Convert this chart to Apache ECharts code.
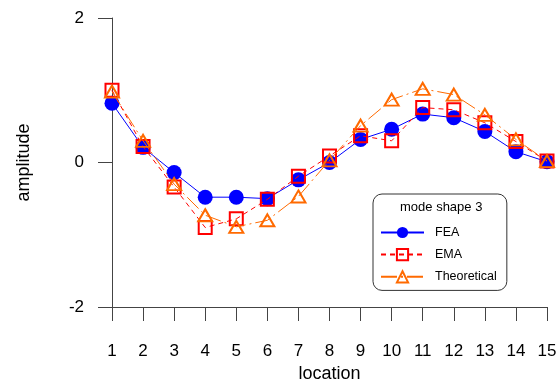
<!DOCTYPE html>
<html>
<head>
<meta charset="utf-8">
<script src="https://cdn.jsdelivr.net/npm/echarts@6/dist/echarts.min.js"></script>
<style>
  html, body { margin: 0; padding: 0; background: #fff; }
  #chart { width: 559px; height: 381px; }
</style>
</head>
<body>
<div id="chart"></div>
<script>
// values
const locations = [1, 2, 3, 4, 5, 6, 7, 8, 9, 10, 11, 12, 13, 14, 15];
const fea = [0.82, 0.21, -0.14, -0.48, -0.48, -0.50, -0.24, 0.00, 0.32, 0.46, 0.67, 0.62, 0.43, 0.15, 0.01];
const ema = [1.00, 0.22, -0.34, -0.90, -0.78, -0.51, -0.19, 0.09, 0.37, 0.30, 0.76, 0.73, 0.55, 0.29, 0.02];
const theoretical = [0.98, 0.30, -0.30, -0.73, -0.89, -0.80, -0.47, 0.03, 0.51, 0.87, 1.02, 0.94, 0.66, 0.32, 0.02];
const yTicks = [-2, 0, 2];

const pairs = (ys) => locations.map((x, i) => [x, ys[i]]);
const font = 'Liberation Sans, Arial, sans-serif';
const axisColor = '#444';

const chart = echarts.init(document.getElementById('chart'));
chart.setOption({
  animation: false,
  textStyle: { fontFamily: font },
  grid: { left: 112, right: 12, top: 18, bottom: 74, outerBoundsMode: 'none', containLabel: false },
  xAxis: {
    type: 'value',
    min: 1, max: 15, interval: 1,
    name: 'location',
    nameLocation: 'middle',
    nameGap: 52,
    nameTextStyle: { fontSize: 18, color: '#000', fontFamily: font },
    axisLine: { onZero: false, lineStyle: { color: axisColor } },
    axisTick: { show: true, length: 14, lineStyle: { color: axisColor } },
    axisLabel: { fontSize: 17, color: '#000', margin: 36, fontFamily: font },
    splitLine: { show: false }
  },
  yAxis: {
    type: 'value',
    min: yTicks[0], max: yTicks[yTicks.length - 1], interval: 2,
    name: 'amplitude',
    nameLocation: 'middle',
    nameRotate: 90,
    nameGap: 79,
    nameTextStyle: { fontSize: 18, color: '#000', fontFamily: font },
    axisLine: { show: true, onZero: false, lineStyle: { color: axisColor } },
    axisTick: { show: true, length: 14, lineStyle: { color: axisColor } },
    axisLabel: { fontSize: 17, color: '#000', margin: 28, fontFamily: font },
    splitLine: { show: false }
  },
  legend: {
    orient: 'vertical',
    left: 373, top: 194,
    padding: [32, 10, 7, 7],
    itemWidth: 43, itemHeight: 14, itemGap: 9,
    borderColor: '#333', borderWidth: 1, borderRadius: 9,
    backgroundColor: '#fff',
    textStyle: { fontSize: 12.5, color: '#000', fontFamily: font, padding: [0, 0, 0, 6] },
    data: ['FEA', 'EMA', 'Theoretical']
  },
  graphic: [{
    type: 'text',
    left: 400, top: 201, z: 100,
    style: { text: 'mode shape 3', fontSize: 13, fill: '#000', fontFamily: font }
  }],
  series: [
    {
      name: 'FEA', type: 'line', data: pairs(fea),
      symbol: 'circle', symbolSize: 15,
      itemStyle: { color: '#0000ff' },
      lineStyle: { color: '#0000ff', width: 1 },
      z: 3
    },
    {
      name: 'EMA', type: 'line', data: pairs(ema),
      symbol: 'rect', symbolSize: 13,
      itemStyle: { color: 'rgba(0,0,0,0)', borderColor: '#ff0000', borderWidth: 2 },
      lineStyle: { color: '#ff0000', width: 1, type: [5, 4] },
      z: 4
    },
    {
      name: 'Theoretical', type: 'line', data: pairs(theoretical),
      symbol: 'triangle', symbolSize: [14, 12],
      itemStyle: { color: 'rgba(0,0,0,0)', borderColor: '#ff6a00', borderWidth: 2 },
      lineStyle: { color: '#ff6a00', width: 1, type: [16, 4, 2, 4] },
      z: 5
    }
  ]
});
</script>
</body>
</html>
